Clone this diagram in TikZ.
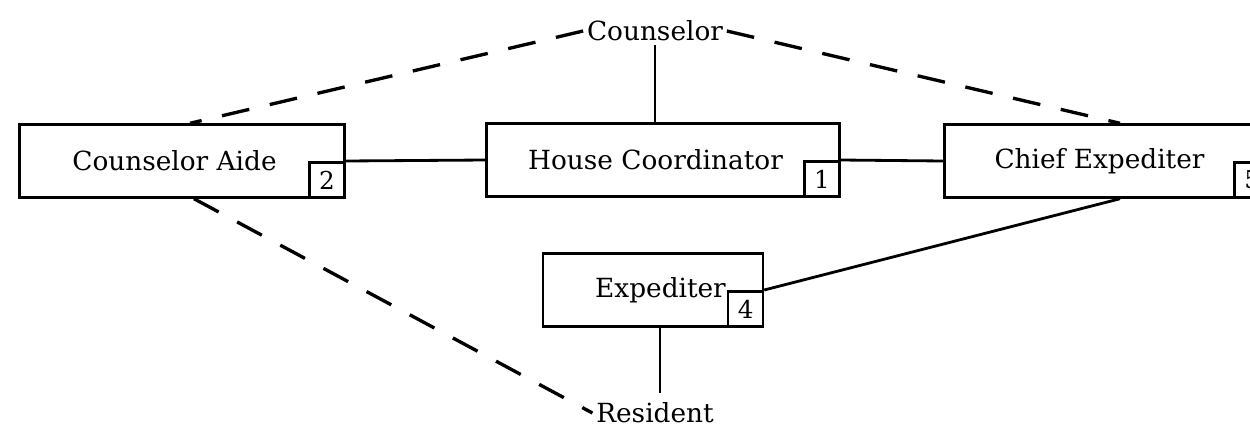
\documentclass[tikz,border=0pt]{standalone}
\usepackage{fontspec}
\setmainfont{DejaVu Serif}
\usetikzlibrary{positioning,calc}
\tikzset{
  role/.style={draw=black,line width=1.4pt,fill=white,inner sep=0pt,
    minimum height=1.46cm,font=\fontsize{15}{17}\selectfont},
  num/.style={draw=black,line width=1.3pt,inner sep=0pt,minimum size=0.7cm,
    font=\fontsize{14}{16}\selectfont},
  who/.style={inner sep=2pt,font=\fontsize{15}{17}\selectfont},
  tie/.style={draw=black,line width=1.6pt},
  link/.style={draw=black,line width=1.9pt,dash pattern=on 0.56cm off 0.42cm},
}
\begin{document}
\begin{tikzpicture}[x=0.02cm,y=-0.02cm]
  \useasboundingbox (0,0) rectangle (1250,430);
  \clip (0,0) rectangle (1250,430);
  \fill[white] (0,0) rectangle (1250,430);
  % people outside the house
  \node[who] (counselor) at (655,31) {Counselor};
  \node[who] (resident) at (655,413) {Resident};
  % house staff
  \node[role,minimum width=6.5cm] (aide) at (182,161) {Counselor Aide\hspace*{0.3cm}};
  \node[role,minimum width=7.06cm] (coord) at (663,160) {House Coordinator\hspace*{0.3cm}};
  \node[role,minimum width=6.5cm] (chief) at (1107,161) {Chief Expediter\hspace*{0.3cm}};
  \node[role,minimum width=4.4cm] (exped) at (653,290) {\hspace*{0.3cm}Expediter};
  \foreach \b/\n in {aide/2,coord/1,chief/5,exped/4}
    \node[num,anchor=south east] (\b-n) at (\b.south east) {\n};
  % solid ties
  \draw[tie] (counselor.south) -- (counselor.south |- coord.north);
  \draw[tie] (aide.east) -- (coord.west);
  \draw[tie] (coord.east) -- (chief.west);
  \draw[tie] (exped.east) -- ($(chief.south)+(13,0)$);
  \draw[tie] ($(exped.south)+(7,0)$) -- ($(resident.north)+(5,-6)$);
  % dashed links
  \draw[link] (counselor.west) -- ($(aide.north)+(8,0)$);
  \draw[link] (counselor.east) -- ($(chief.north)+(13,0)$);
  \draw[link] ($(aide.south)+(12,0)$) -- (resident.west);
\end{tikzpicture}
\end{document}
